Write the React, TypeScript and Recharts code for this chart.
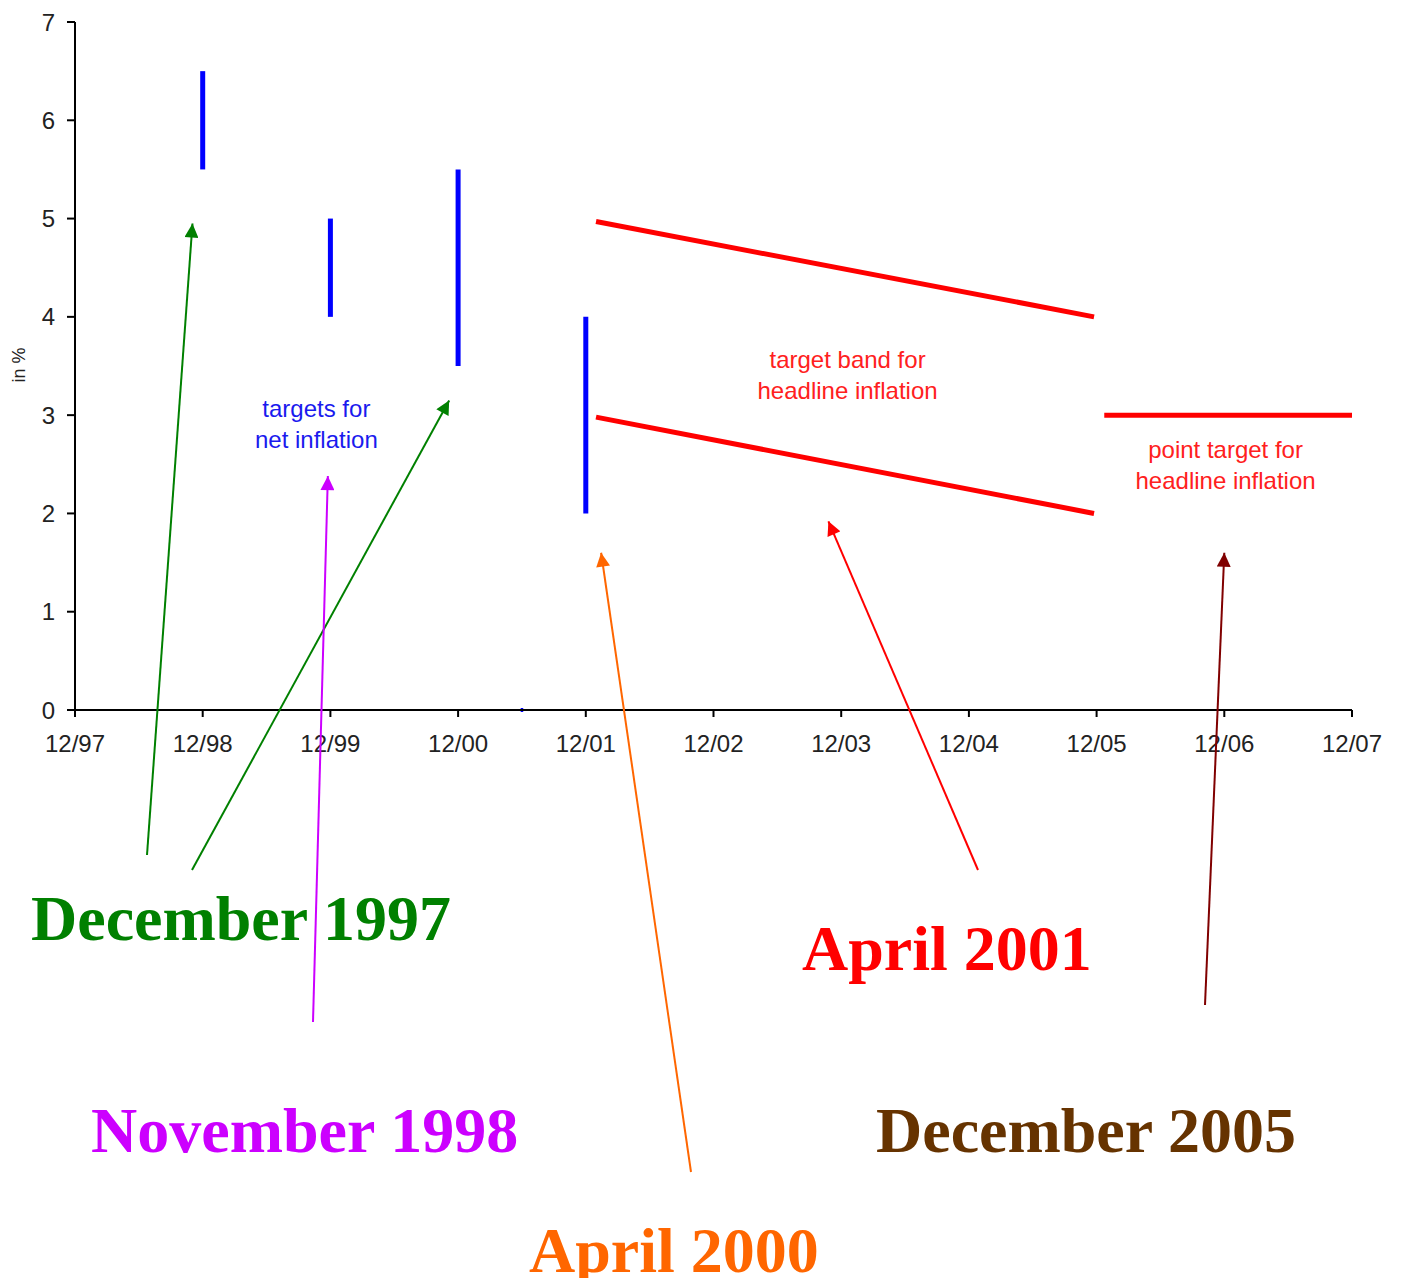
import React from "react";
import { ComposedChart, Line, XAxis, YAxis } from "recharts";

// ---- data ----
const xTickValues = [0, 1, 2, 3, 4, 5, 6, 7, 8, 9, 10];
const xTickLabels = ["12/97", "12/98", "12/99", "12/00", "12/01", "12/02", "12/03", "12/04", "12/05", "12/06", "12/07"];
const yTickValues = [0, 1, 2, 3, 4, 5, 6, 7];

// net inflation target ranges (date in years since 12/97)
const netTargetDates = [1, 2, 3, 4];
const netTargetLow = [5.5, 4, 3.5, 2];
const netTargetHigh = [6.5, 5, 5.5, 4];

// headline inflation target band
const bandUpper = [
  { date: 4.08, value: 4.97 },
  { date: 7.98, value: 4.0 },
];
const bandLower = [
  { date: 4.08, value: 2.98 },
  { date: 7.98, value: 2.0 },
];
// point target
const pointTarget = [
  { date: 8.06, value: 3 },
  { date: 10, value: 3 },
];
const strayDot = [
  { date: 3.49, value: 0 },
  { date: 3.51, value: 0 },
];

// ---- layout ----
const W = 1386;
const H = 1270;
const L = 67;
const R = 1344;
const T = 14;
const B = 702;
const YAXIS_W = 40;
const XAXIS_H = 30;
const sx = (x: number) => L + (x * (R - L)) / 10;
const sy = (y: number) => B - (y * (B - T)) / 7;

// annotations: tail in pixels (page coords minus 8), tip in data coords
const arrows = [
  { color: "#008000", tail: [139, 847], tip: [0.92, 4.95] },
  { color: "#008000", tail: [184, 862], tip: [2.93, 3.15] },
  { color: "#CC00FF", tail: [305, 1014], tip: [1.98, 2.38] },
  { color: "#FF6600", tail: [683, 1164], tip: [4.12, 1.6] },
  { color: "#FF0000", tail: [970, 862], tip: [5.9, 1.92] },
  { color: "#800000", tail: [1197, 997], tip: [9.0, 1.6] },
];
const bigLabels = [
  { text: "December 1997", color: "#008000", x: 23, y: 932 },
  { text: "November 1998", color: "#CC00FF", x: 83, y: 1144 },
  { text: "April 2000", color: "#FF6600", x: 521, y: 1264 },
  { text: "April 2001", color: "#FF0000", x: 794, y: 962 },
  { text: "December 2005", color: "#663300", x: 868, y: 1144 },
];
const innerLabels = [
  { lines: ["targets for", "net inflation"], color: "#1a1aee", x: 1.89, y: 2.98 },
  { lines: ["target band for", "headline inflation"], color: "#ff2020", x: 6.05, y: 3.48 },
  { lines: ["point target for", "headline inflation"], color: "#ff2020", x: 9.01, y: 2.56 },
];

const tickFont = "'Liberation Sans', Arial, sans-serif";

function Overlay() {
  return (
    <svg width={W} height={H} overflow="visible" style={{ position: "absolute", left: 0, top: 0, pointerEvents: "none", overflow: "visible" }}>
      <defs>
        {arrows.map((a, i) => (
          <marker
            key={i}
            id={`ah${i}`}
            viewBox="0 0 10 10"
            refX="10"
            refY="5"
            markerWidth="8"
            markerHeight="7"
            markerUnits="strokeWidth"
            orient="auto"
          >
            <path d="M0,0 L10,5 L0,10 z" fill={a.color} />
          </marker>
        ))}
      </defs>
      <text
        transform={`translate(17, ${357}) rotate(-90)`}
        textAnchor="middle"
        fontFamily={tickFont}
        fontSize={18}
        fill="#222"
      >
        in %
      </text>
      {innerLabels.map((lb, i) => (
        <text
          key={i}
          x={sx(lb.x)}
          y={sy(lb.y)}
          textAnchor="middle"
          fontFamily={tickFont}
          fontSize={24}
          fill={lb.color}
        >
          {lb.lines.map((ln, j) => (
            <tspan key={j} x={sx(lb.x)} dy={j === 0 ? 0 : 31}>
              {ln}
            </tspan>
          ))}
        </text>
      ))}
      {arrows.map((a, i) => (
        <line
          key={i}
          x1={a.tail[0]}
          y1={a.tail[1]}
          x2={sx(a.tip[0])}
          y2={sy(a.tip[1])}
          stroke={a.color}
          strokeWidth={2}
          markerEnd={`url(#ah${i})`}
        />
      ))}
      {bigLabels.map((lb, i) => (
        <text
          key={i}
          x={lb.x}
          y={lb.y}
          fontFamily="'Liberation Serif', 'Times New Roman', serif"
          fontWeight="bold"
          fontSize={64}
          fill={lb.color}
        >
          {lb.text}
        </text>
      ))}
    </svg>
  );
}

export default function App() {
  const netSegments = netTargetDates.map((d, i) => [
    { date: d, value: netTargetLow[i] },
    { date: d, value: netTargetHigh[i] },
  ]);
  return (
    <div style={{ position: "relative", width: W, height: H }}>
      <ComposedChart
        width={W}
        height={H}
        margin={{ top: T, left: L - YAXIS_W, right: W - R, bottom: H - B - XAXIS_H }}
        style={{ overflow: "visible" }}
      >
        <XAxis
          dataKey="date"
          type="number"
          domain={[0, 10]}
          ticks={xTickValues}
          tickFormatter={(v: number) => xTickLabels[xTickValues.indexOf(v)] ?? ""}
          height={XAXIS_H}
          stroke="#000"
          strokeWidth={2}
          tickSize={7}
          tick={{ fill: "#222", fontSize: 24, fontFamily: tickFont, dy: 16 }}
          interval={0}
          allowDuplicatedCategory={false}
        />
        <YAxis
          type="number"
          domain={[0, 7]}
          ticks={yTickValues}
          width={YAXIS_W}
          stroke="#000"
          strokeWidth={2}
          tickSize={8}
          tick={{ fill: "#222", fontSize: 24, fontFamily: tickFont, dx: -10 }}
          interval={0}
        />
        {netSegments.map((seg, i) => (
          <Line
            key={`net${i}`}
            data={seg}
            dataKey="value"
            stroke="#0000FF"
            strokeWidth={5}
            dot={false}
            activeDot={false}
            isAnimationActive={false}
            type="linear"
          />
        ))}
        <Line data={strayDot} dataKey="value" stroke="#0000FF" strokeWidth={4} dot={false} activeDot={false} isAnimationActive={false} />
        <Line data={bandUpper} dataKey="value" stroke="#FF0000" strokeWidth={5} dot={false} activeDot={false} isAnimationActive={false} type="linear" />
        <Line data={bandLower} dataKey="value" stroke="#FF0000" strokeWidth={5} dot={false} activeDot={false} isAnimationActive={false} type="linear" />
        <Line data={pointTarget} dataKey="value" stroke="#FF0000" strokeWidth={5} dot={false} activeDot={false} isAnimationActive={false} type="linear" />
      </ComposedChart>
      <Overlay />
    </div>
  );
}
